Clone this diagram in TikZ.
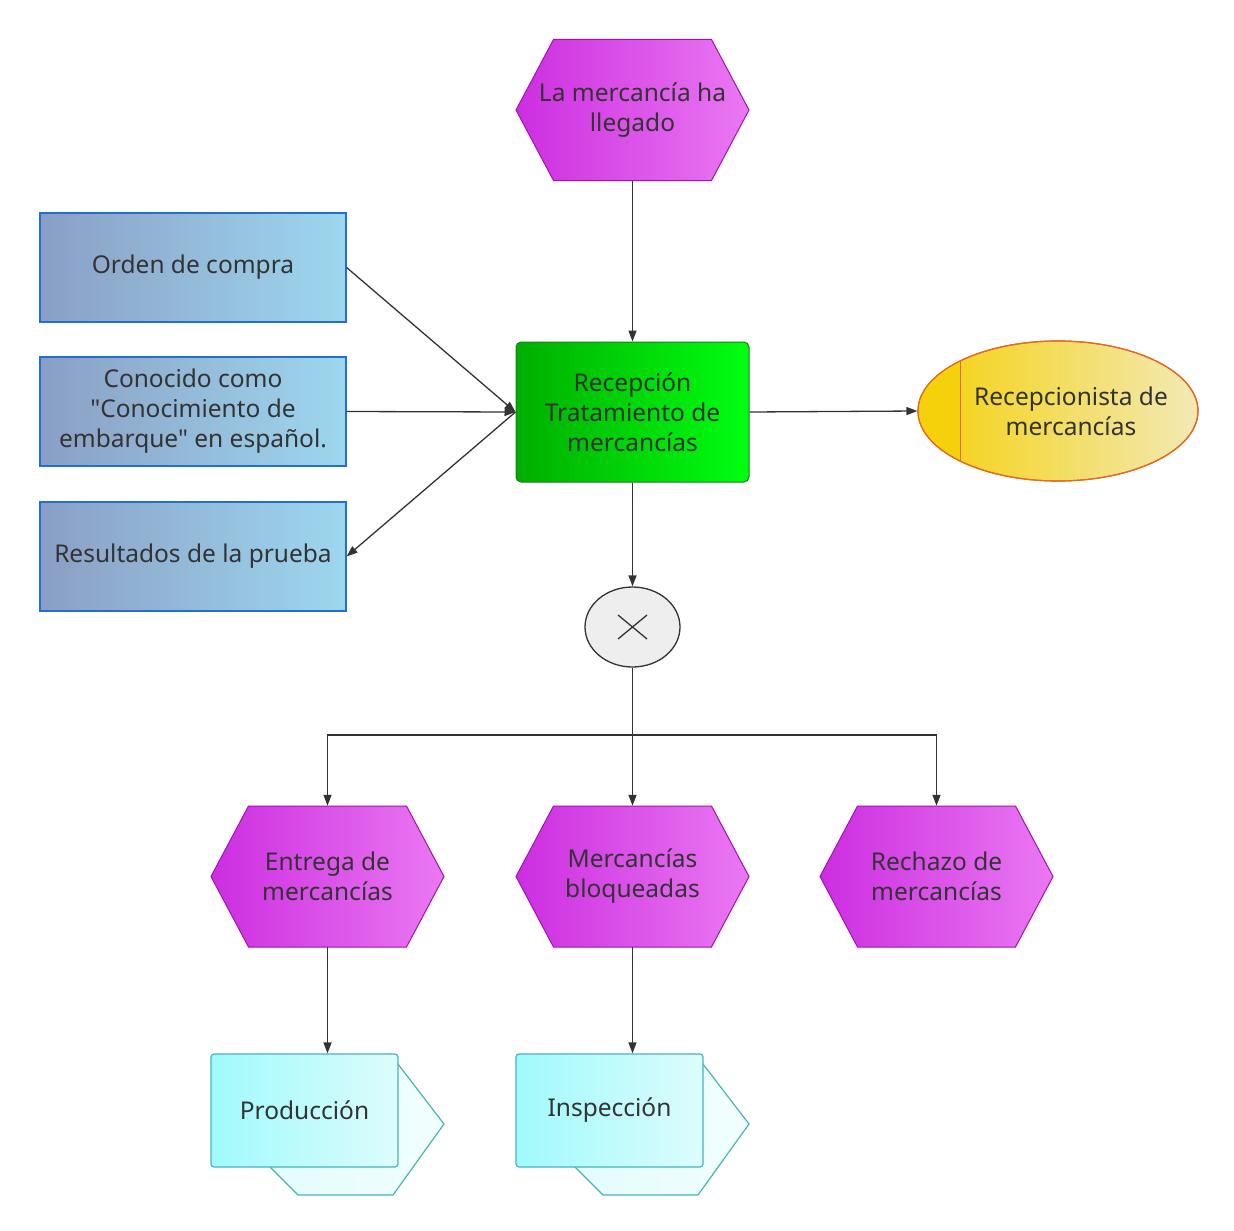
\documentclass[tikz,border=0pt]{standalone}
\usepackage{fontspec}
\setmainfont{Noto Sans}[Ligatures=TeXOff]
\usetikzlibrary{arrows.meta,shapes.geometric,calc}
\definecolor{txt}{HTML}{333333}
\definecolor{linec}{HTML}{333333}
\definecolor{hexL}{HTML}{CC2EE0}
\definecolor{hexR}{HTML}{EA78F2}
\definecolor{hexB}{HTML}{A012B4}
\definecolor{bluL}{HTML}{8A9EC4}
\definecolor{bluR}{HTML}{9DD7EF}
\definecolor{bluB}{HTML}{1F6FD6}
\definecolor{grnL}{HTML}{00AE00}
\definecolor{grnR}{HTML}{00FF10}
\definecolor{grnB}{HTML}{1E7A1E}
\definecolor{yelL}{HTML}{F4D10A}
\definecolor{yelR}{HTML}{F3E9B6}
\definecolor{yelB}{HTML}{E06A1E}
\definecolor{cyaL}{HTML}{A0FAFC}
\definecolor{cyaR}{HTML}{DDFCFC}
\definecolor{cyaB}{HTML}{4AB3B3}
\definecolor{gwF}{HTML}{EEEEEE}
\newcommand\hexanode[4]{%
  \path[hexfill] ({#2-116.5},{#3}) -- ({#2-79},{#3-70.5}) -- ({#2+79},{#3-70.5})
    -- ({#2+116.5},{#3}) -- ({#2+79},{#3+70.5}) -- ({#2-79},{#3+70.5}) -- cycle;
  \node[hextext] (#1) at (#2,#3) {#4};}
\newcommand\docnode[4]{%
  \path[docback] ({#2-34.5},{#3+56.5}) -- ({#2-6.5},{#3+84.5}) -- ({#2+88.5},{#3+84.5})
    -- ({#2+139.5},{#3+13.5}) -- ({#2+93.5},{#3-46.5}) -- ({#2-34.5},{#3-46.5}) -- cycle;
  \node[docfront] (#1) at (#2,#3) {#4};}
\begin{document}
\begin{tikzpicture}[x=1pt,y=-1pt,
  font=\fontsize{24.5}{30}\selectfont,
  every node/.style={text=txt, align=center, inner sep=0pt},
  conn/.style={draw=linec, line width=1.3pt},
  arr/.style={conn, -{Triangle[length=11pt,width=8pt]}},
  hexfill/.style={left color=hexL, right color=hexR, draw=hexB, line width=1pt},
  hextext/.style={minimum width=233pt, minimum height=141pt},
  inbox/.style={rectangle, left color=bluL, right color=bluR, draw=bluB, line width=1.2pt,
    minimum width=306pt, minimum height=109pt},
  funcbox/.style={rectangle, rounded corners=5pt, left color=grnL, right color=grnR,
    draw=grnB, line width=1pt, minimum width=233pt, minimum height=140pt},
  rolebox/.style={ellipse, left color=yelL, right color=yelR, draw=yelB, line width=1.2pt,
    minimum width=280pt, minimum height=140pt},
  gwbox/.style={ellipse, fill=gwF, draw=linec, line width=1.3pt,
    minimum width=95pt, minimum height=80pt},
  docback/.style={left color=cyaR!80!white, right color=cyaR!40!white, draw=cyaB, line width=1.2pt},
  docfront/.style={rectangle, rounded corners=3pt, left color=cyaL, right color=cyaR,
    draw=cyaB, line width=1.2pt, minimum width=187pt, minimum height=113pt},
]
\useasboundingbox (0,0) rectangle (1234,1231);
\fill[white] (0,0) rectangle (1234,1231);

% events
\hexanode{ev1}{632.5}{110}{La mercancía ha\\llegado}
\hexanode{ev2}{327.5}{876.5}{Entrega de\\mercancías}
\hexanode{ev3}{632.5}{876.5}{Mercancías\\bloqueadas}
\hexanode{ev4}{936.5}{876.5}{Rechazo de\\mercancías}

% inputs
\node[inbox] (in1) at (193,267.5) {Orden de compra};
\node[inbox] (in2) at (193,411.5) {Conocido como\\"Conocimiento de\\embarque" en español.};
\node[inbox] (in3) at (193,556.5) {Resultados de la prueba};

% function
\node[funcbox] (func) at (632.5,412) {Recepción\\Tratamiento de\\mercancías};

% role
\node[rolebox] (role) at (1058,411) {};
\begin{scope}
  \clip (1058,411) ellipse [x radius=139.4pt, y radius=69.4pt];
  \fill[yelL] (918,341) rectangle (960,481);
\end{scope}
\draw[yelB, line width=1.2pt] (1058,411) ellipse [x radius=140pt, y radius=70pt];
\draw[yelB, line width=1pt] (960,361) -- (960,461);
\node (roletext) at (1071,411) {Recepcionista de\\mercancías};

% gateway
\node[gwbox] (gw) at (632.5,627) {};
\draw[linec, line width=1.3pt] ($(gw.center)+(-14.5,-12)$) -- ($(gw.center)+(14.5,12)$)
  ($(gw.center)+(-14.5,12)$) -- ($(gw.center)+(14.5,-12)$);

% documents
\docnode{out1}{304.5}{1110.5}{Producción}
\docnode{out2}{609.5}{1110.5}{Inspección}

% connectors
\draw[arr] (ev1.south) -- (func.north);
\draw[arr] (in1.east) -- (func.west);
\draw[arr] (in2.east) -- (func.west);
\draw[arr] (func.west) -- (in3.east);
\draw[arr] (func.east) -- (role.west);
\draw[arr] (func.south) -- (gw.north);
\coordinate (split) at (632.5,735);
\draw[conn] (gw.south) -- (split);
\draw[arr] (split) -| (ev2.north);
\draw[arr] (split) -- (ev3.north);
\draw[arr] (split) -| (ev4.north);
\draw[arr] (ev2.south) -- (ev2.south |- out1.north);
\draw[arr] (ev3.south) -- (ev3.south |- out2.north);
\end{tikzpicture}
\end{document}
